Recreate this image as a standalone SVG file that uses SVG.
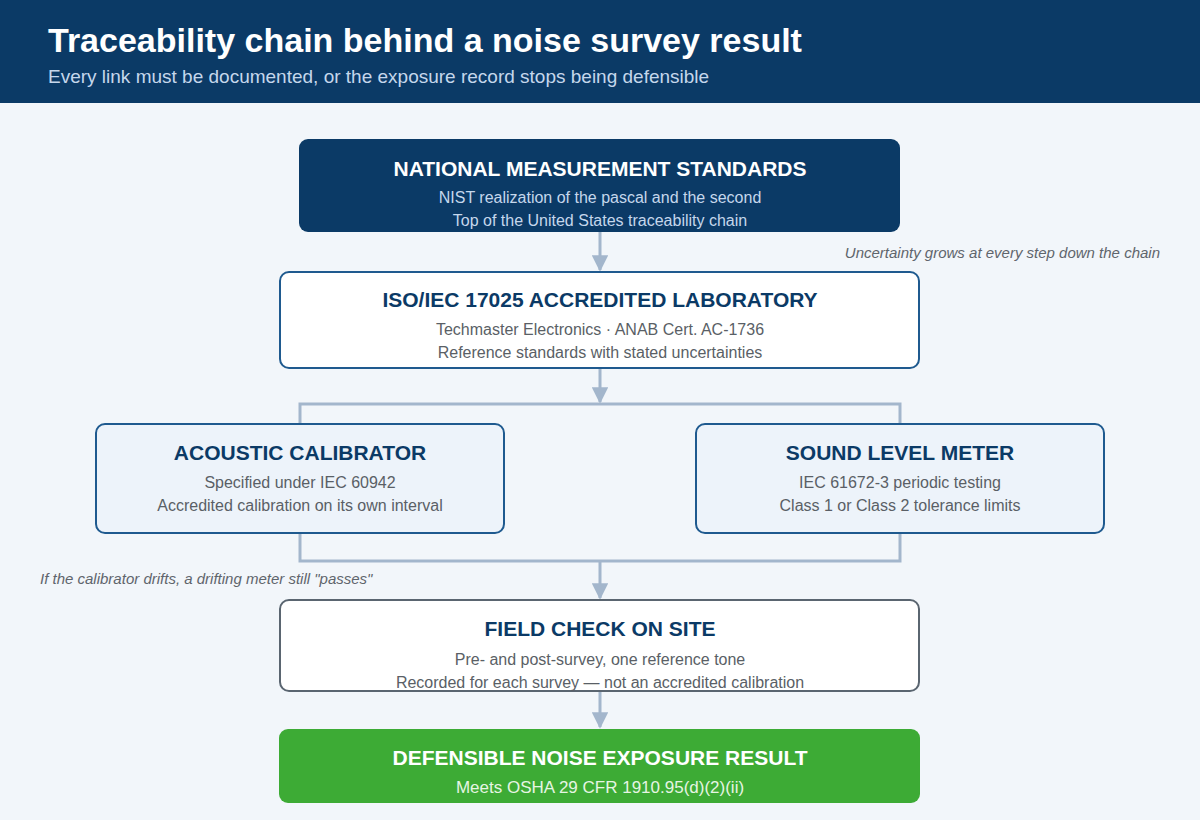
<svg xmlns="http://www.w3.org/2000/svg" width="1200" height="820" viewBox="0 0 1200 820">
<defs>
<style>
text{font-family:"Liberation Sans",Arial,sans-serif}
.h1{font-size:34px;font-weight:bold;fill:#ffffff}
.h2{font-size:19px;fill:#c5d7ec}
.t{font-size:21px;font-weight:bold;text-anchor:middle;fill:#0b3a66}
.tw{fill:#ffffff}
.s{font-size:16px;text-anchor:middle;fill:#5a5f66}
.sd{fill:#c5d7ec}
.sg{font-size:17px;fill:#e6f5e3}
.note{font-size:15px;font-style:italic;fill:#5f656c}
.ln{fill:none;stroke:#a3b6cc;stroke-width:3}
</style>
<marker id="ah" viewBox="0 0 10 10" refX="9" refY="5" markerWidth="5.5" markerHeight="5.5" orient="auto" markerUnits="strokeWidth">
<path d="M0,0 L10,5 L0,10 z" fill="#a3b6cc"/>
</marker>
</defs>
<rect x="0" y="0" width="1200" height="820" fill="#f2f6fa"/>
<g id="header">
<rect x="0" y="0" width="1200" height="103" fill="#0b3a66"/>
<text class="h1" x="48" y="52">Traceability chain behind a noise survey result</text>
<text class="h2" x="48" y="83">Every link must be documented, or the exposure record stops being defensible</text>
</g>
<g id="connectors">
<line class="ln" x1="600" y1="232" x2="600" y2="270" marker-end="url(#ah)"/>
<line class="ln" x1="600" y1="368" x2="600" y2="402" marker-end="url(#ah)"/>
<polyline class="ln" points="300,424 300,404 900,404 900,424"/>
<polyline class="ln" points="300,533 300,561 900,561 900,533"/>
<line class="ln" x1="600" y1="561" x2="600" y2="598" marker-end="url(#ah)"/>
<line class="ln" x1="600" y1="691" x2="600" y2="727" marker-end="url(#ah)"/>
</g>
<g id="note-uncertainty">
<text class="note" x="1160" y="258" text-anchor="end">Uncertainty grows at every step down the chain</text>
</g>
<g id="note-drift">
<text class="note" x="40" y="584">If the calibrator drifts, a drifting meter still "passes"</text>
</g>
<g id="node-national">
<rect x="299" y="139" width="601" height="93" rx="9" fill="#0b3a66"/>
<text class="t tw" x="600" y="176">NATIONAL MEASUREMENT STANDARDS</text>
<text class="s sd" x="600" y="203">NIST realization of the pascal and the second</text>
<text class="s sd" x="600" y="226">Top of the United States traceability chain</text>
</g>
<g id="node-lab">
<rect x="280" y="272" width="639" height="96" rx="9" fill="#ffffff" stroke="#1f5a8f" stroke-width="2"/>
<text class="t" x="600" y="307">ISO/IEC 17025 ACCREDITED LABORATORY</text>
<text class="s" x="600" y="335">Techmaster Electronics · ANAB Cert. AC-1736</text>
<text class="s" x="600" y="358">Reference standards with stated uncertainties</text>
</g>
<g id="node-calibrator">
<rect x="96" y="424" width="408" height="109" rx="9" fill="#edf3fa" stroke="#1f5a8f" stroke-width="2"/>
<text class="t" x="300" y="460">ACOUSTIC CALIBRATOR</text>
<text class="s" x="300" y="488">Specified under IEC 60942</text>
<text class="s" x="300" y="511">Accredited calibration on its own interval</text>
</g>
<g id="node-meter">
<rect x="696" y="424" width="408" height="109" rx="9" fill="#edf3fa" stroke="#1f5a8f" stroke-width="2"/>
<text class="t" x="900" y="460">SOUND LEVEL METER</text>
<text class="s" x="900" y="488">IEC 61672-3 periodic testing</text>
<text class="s" x="900" y="511">Class 1 or Class 2 tolerance limits</text>
</g>
<g id="node-field">
<rect x="280" y="600" width="639" height="91" rx="9" fill="#ffffff" stroke="#5a6570" stroke-width="2"/>
<text class="t" x="600" y="636">FIELD CHECK ON SITE</text>
<text class="s" x="600" y="665">Pre- and post-survey, one reference tone</text>
<text class="s" x="600" y="688">Recorded for each survey — not an accredited calibration</text>
</g>
<g id="node-result">
<rect x="279" y="729" width="641" height="74" rx="9" fill="#3dab35"/>
<text class="t tw" x="600" y="765">DEFENSIBLE NOISE EXPOSURE RESULT</text>
<text class="s sg" x="600" y="793">Meets OSHA 29 CFR 1910.95(d)(2)(ii)</text>
</g>
</svg>
